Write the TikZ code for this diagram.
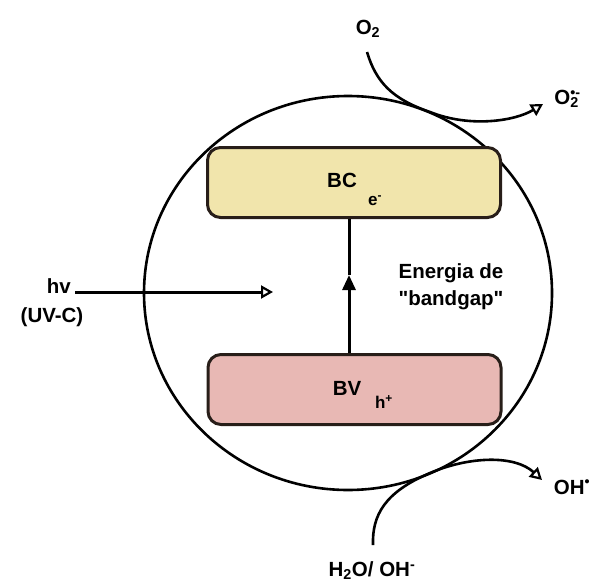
\documentclass[tikz,border=0pt]{standalone}
\usepackage{fontspec}
\setmainfont{Liberation Sans}
\usetikzlibrary{arrows.meta}
\definecolor{bcfill}{RGB}{241,229,172}
\definecolor{bvfill}{RGB}{232,184,180}
\definecolor{edgec}{RGB}{40,30,25}
\newcommand{\bigf}{\fontsize{20.5}{23}\selectfont}
\newcommand{\smallf}{\fontsize{17}{19}\selectfont}
\begin{document}
\begin{tikzpicture}[x=1pt,y=-1pt,line width=2.6pt,font=\bfseries\bigf]
\tikzset{
  band/.style={draw=edgec,line width=3pt,rounded corners=13pt,minimum width=293pt,minimum height=70pt,inner sep=0pt},
  lbl/.style={inner sep=0pt,align=center},
  sublbl/.style={inner sep=0pt,font=\bfseries\smallf},
  opentip/.style={-{Triangle[open,length=12pt,width=13pt,line width=2.2pt]}},
  curve/.style={line width=2.6pt}
}
\useasboundingbox (0,0) rectangle (596,583);
% particle
\draw[line width=2.6pt] (348,293) ellipse [x radius=204pt, y radius=197pt];
% bands
\node[band,fill=bcfill] (bc) at (354,182.5) {};
\node[band,fill=bvfill] (bv) at (354.5,389.5) {};
\node[lbl] (bct) at (342,180) {BC};
\node[sublbl] (bcs) at (375,201) {e\textsuperscript{-}};
\node[lbl] (bvt) at (347,388) {BV};
\node[sublbl] (bvs) at (384,402) {h\textsuperscript{+}};
% band gap arrow
\coordinate (gapmid) at (349,275);
\draw[line width=3pt,-{Triangle[length=15pt,width=13pt]}] (bv.north -| gapmid) -- (gapmid);
\draw[line width=3pt] (gapmid) -- (bc.south -| gapmid);
\node[lbl] (gap) at (451,287) {Energia de\\[4pt]\textquotedbl bandgap\textquotedbl};
% light
\node[lbl,anchor=east] (hv) at (72,286) {hv};
\node[lbl] (uvc) at (52,317) {(UV-C)};
\coordinate (hvtip) at (273,292);
\draw[line width=3pt,opentip,shorten <=3pt] (hv.east |- hvtip) -- (hvtip);
% O2 reduction
\node[lbl] (o2) at (368,29) {O\textsubscript{2}};
\node[lbl,anchor=west] (o2r) at (553,99) {O\rlap{\textsubscript{2}}\textsuperscript{•-}};
\coordinate (o2start) at (367,52);
\coordinate (o2end) at (543,104);
\draw[curve,opentip] (o2start) .. controls (376,82) and (392,99) .. (430,112)
  .. controls (470,128) and (515,121) .. (o2end);
% oxidation
\node[lbl] (h2o) at (372,571) {H\textsubscript{2}O/ OH\textsuperscript{-}};
\node[lbl] (oh) at (572,487) {OH\textsuperscript{•}};
\coordinate (h2ostart) at (373,545);
\coordinate (ohend) at (542,480);
\draw[curve,opentip] (h2ostart) .. controls (372,515) and (385,492) .. (430,473)
  .. controls (470,456) and (515,455) .. (ohend);
\end{tikzpicture}
\end{document}
